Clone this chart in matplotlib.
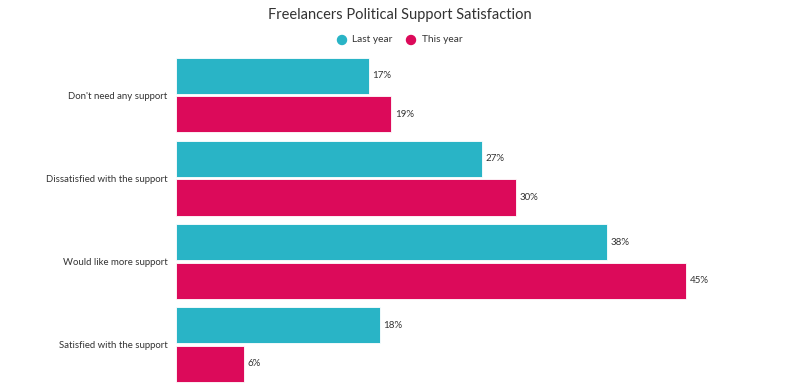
import matplotlib
matplotlib.use("Agg")
import matplotlib.pyplot as plt
import numpy as np

categories = ["Don't need any support", "Dissatisfied with the support",
              "Would like more support", "Satisfied with the support"]
last_year = [17, 27, 38, 18]
this_year = [19, 30, 45, 6]
series_names = ["Last year", "This year"]
colors = ["#29b4c6", "#dc0a5a"]

plt.rcParams['font.family'] = ['Lato', 'DejaVu Sans']

fig = plt.figure(figsize=(8, 3.83), dpi=100)
ax = fig.add_axes([176/800, (383-386)/383, 566.7/800, 332.5/383])

y = np.arange(len(categories))
h = 0.434
off = 0.232
for vals, dy, c in [(last_year, -off, colors[0]), (this_year, off, colors[1])]:
    bars = ax.barh(y + dy, vals, height=h, color=c, edgecolor='white', linewidth=0.6)
    for b, v in zip(bars, vals):
        ax.text(b.get_width() + 0.3, b.get_y() + b.get_height()/2, f"{v}%",
                va='center', ha='left', fontsize=7, color='#333333')

ax.set_xlim(0, 50)
ax.set_ylim(3.5, -0.5)
ax.set_yticks(y)
ax.set_yticklabels(categories, fontsize=6.9, color='#333333')
ax.tick_params(axis='y', length=0, pad=6)
ax.set_xticks([])
for s in ax.spines.values():
    s.set_visible(False)

fig.text(0.5, 0.96, "Freelancers Political Support Satisfaction", ha='center', va='center',
         fontsize=10.5, color='#333333')
# legend
ly = 1 - 40/383
fig.patches.append(matplotlib.patches.Ellipse((342/800, ly), 9/800, 9/383, transform=fig.transFigure,
                                              color=colors[0]))
fig.text(352/800, ly, series_names[0], ha='left', va='center', fontsize=7.3, color='#333333')
fig.patches.append(matplotlib.patches.Ellipse((411/800, ly), 9/800, 9/383, transform=fig.transFigure,
                                              color=colors[1]))
fig.text(422/800, ly, series_names[1], ha='left', va='center', fontsize=7.3, color='#333333')

fig.savefig("out.png", dpi=100)
